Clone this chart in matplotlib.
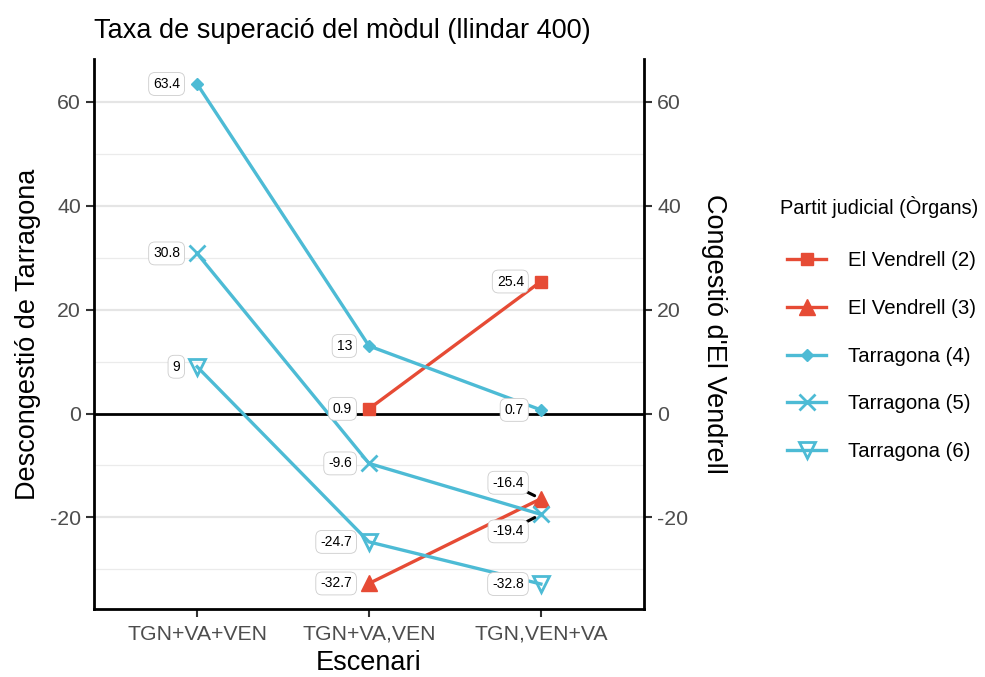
import matplotlib
matplotlib.use("Agg")
import matplotlib.pyplot as plt
import numpy as np

plt.rcParams["font.family"] = ["Liberation Sans", "DejaVu Sans"]
plt.rcParams["axes.unicode_minus"] = False

# Dades
ESCENARIS = ["TGN+VA+VEN", "TGN+VA,VEN", "TGN,VEN+VA"]
SERIES = [
    "El Vendrell (2)",
    "El Vendrell (3)",
    "Tarragona (4)",
    "Tarragona (5)",
    "Tarragona (6)",
]
VENDRELL_2 = [np.nan, 0.9, 25.4]
VENDRELL_3 = [np.nan, -32.7, -16.4]
TARRAGONA_4 = [63.4, 13.0, 0.7]
TARRAGONA_5 = [30.8, -9.6, -19.4]
TARRAGONA_6 = [9.0, -24.7, -32.8]
VALUES = [VENDRELL_2, VENDRELL_3, TARRAGONA_4, TARRAGONA_5, TARRAGONA_6]

RED = "#E64B35"
CYAN = "#4DBBD5"
STYLES = {
    "El Vendrell (2)": dict(color=RED, marker="s", ms=9, mfc=RED),
    "El Vendrell (3)": dict(color=RED, marker="^", ms=11, mfc=RED),
    "Tarragona (4)": dict(color=CYAN, marker="D", ms=6.5, mfc=CYAN),
    "Tarragona (5)": dict(color=CYAN, marker="x", ms=11, mfc=CYAN, mew=2),
    "Tarragona (6)": dict(color=CYAN, marker="v", ms=11, mfc="none", mew=2),
}

# desplaçament de les etiquetes (pixels) quan cal apartar-les
LABEL_SHIFT = {("El Vendrell (3)", 2): (-17, 16), ("Tarragona (5)", 2): (-17, -17)}

W, H = 985, 677
fig = plt.figure(figsize=(W / 100, H / 100), dpi=100)
ax = fig.add_axes([94 / W, (H - 609) / H, (644 - 94) / W, (609 - 59) / H])

x = np.arange(1, len(ESCENARIS) + 1)
all_vals = np.concatenate([np.array(v) for v in VALUES])
lo, hi = np.nanmin(all_vals), np.nanmax(all_vals)
pad = 0.05 * (hi - lo)
ax.set_ylim(lo - pad, hi + pad)
ax.set_xlim(0.4, 3.6)

# graella
for yv in [-20, 20, 40, 60]:
    ax.axhline(yv, color="#E5E5E5", lw=1.6, zorder=0)
for yv in [-30, -10, 10, 30, 50]:
    ax.axhline(yv, color="#EBEBEB", lw=0.9, zorder=0)
ax.axhline(0, color="black", lw=2.0, zorder=1)

for name, vals in zip(SERIES, VALUES):
    st = STYLES[name]
    ax.plot(x, vals, color=st["color"], lw=2.4, marker=st["marker"], ms=st["ms"],
            mfc=st["mfc"], mec=st["color"], mew=st.get("mew", 1), label=name,
            zorder=3)

for name, vals in zip(SERIES, VALUES):
    for i, v in enumerate(vals):
        if np.isnan(v):
            continue
        dx, dy = LABEL_SHIFT.get((name, i), (-17, 0))
        txt = f"{v:g}"
        arrow = None
        if (name, i) in LABEL_SHIFT:
            arrow = dict(arrowstyle="-", color="black", lw=2.2, shrinkA=0, shrinkB=5)
        ax.annotate(txt, (x[i], v), xytext=(dx, dy), textcoords="offset pixels",
                    ha="right", va="center", fontsize=10, color="black",
                    bbox=dict(boxstyle="round,pad=0.32,rounding_size=0.45",
                              fc="white", ec="#CCCCCC", lw=0.6),
                    arrowprops=arrow, zorder=4)

ax.set_xticks(x)
ax.set_xticklabels(ESCENARIS)
ax.set_yticks([-20, 0, 20, 40, 60])
for sp in ["top", "right"]:
    ax.spines[sp].set_visible(False)
for sp in ["left", "bottom"]:
    ax.spines[sp].set_linewidth(2)
ax.tick_params(axis="both", labelsize=15.3, colors="#4D4D4D", length=5.5,
               width=1.5, pad=4)
ax.tick_params(axis="x", pad=6)
ax.tick_params(axis="both", color="#333333")

ax2 = ax.twinx()
ax2.set_ylim(ax.get_ylim())
ax2.set_yticks([-20, 0, 20, 40, 60])
for sp in ["top", "left", "bottom"]:
    ax2.spines[sp].set_visible(False)
ax2.spines["right"].set_linewidth(2)
ax2.tick_params(axis="y", labelsize=15.3, colors="#4D4D4D", length=5.5,
                width=1.5, pad=4)
ax2.tick_params(axis="y", color="#333333")

ax.set_xlabel("Escenari", fontsize=19.5, labelpad=4)
ax.set_ylabel("Descongestió de Tarragona", fontsize=19.5, labelpad=6)
ax2.set_ylabel("Congestió d'El Vendrell", fontsize=19.5, rotation=270, labelpad=28)
ax.set_title("Taxa de superació del mòdul (llindar 400)", fontsize=19.5, loc="left",
             pad=15, x=0.0)

handles, labels = ax.get_legend_handles_labels()
leg = fig.legend(handles, labels, title="Partit judicial (Òrgans)",
                 loc="upper left", bbox_to_anchor=(779 / W, 1 - 188 / H),
                 frameon=False, fontsize=14.7, title_fontsize=14.4,
                 labelspacing=1.40, handlelength=1.9, handletextpad=1.1,
                 alignment="left", borderaxespad=0)
leg._legend_box.sep = 24
leg.get_title().set_position((-7, 0))

fig.savefig("out.png", dpi=100)
